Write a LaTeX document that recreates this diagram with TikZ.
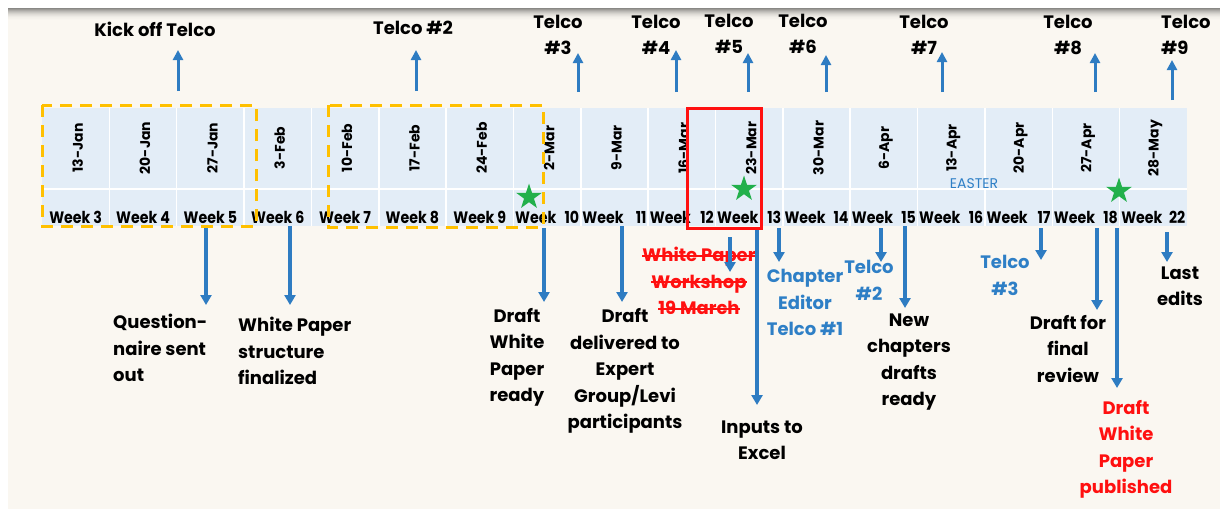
\documentclass[tikz,border=0pt]{standalone}
\usepackage{fontspec}
\setmainfont{Poppins}
\newfontfamily\weekfont{Poppins}[FakeStretch=0.86]
\newcommand\strk[1]{\setbox0=\hbox{#1}\rlap{\raisebox{0.27em}{\rule{\wd0}{1.8pt}}}\box0}
\usetikzlibrary{shapes.geometric,arrows.meta}
\definecolor{cream}{HTML}{FAF7F1}
\definecolor{cellblue}{HTML}{E3EDF7}
\definecolor{ablue}{HTML}{2E7CC2}
\definecolor{tblue}{HTML}{2E7FC6}
\definecolor{myred}{HTML}{FF1010}
\definecolor{myorange}{HTML}{FFC000}
\definecolor{sgreen}{HTML}{22B04B}
\tikzset{
  lab/.style={font=\bfseries\fontsize{18}{26.5}\selectfont, align=center, inner sep=0pt, text=black},
  toplab/.style={font=\bfseries\fontsize{18}{26}\selectfont, align=center, inner sep=0pt, text=black},
  datelab/.style={font=\bfseries\fontsize{14}{14}\selectfont, rotate=90, inner sep=0pt},
  weeklab/.style={font=\weekfont\bfseries\fontsize{16.5}{17}\selectfont, inner sep=0pt},
  arr/.style={draw=ablue, line width=3.5pt, -{Triangle[width=11pt,length=10pt]}},
  tarr/.style={draw=ablue, line width=3pt, -{Triangle[width=10pt,length=10pt]}},
  mystar/.style={star, star points=5, star point ratio=2.6, fill=sgreen, minimum size=27pt, inner sep=0pt},
  orangebox/.style={draw=myorange, line width=3pt, dash pattern=on 12pt off 8pt},
}
\begin{document}
\begin{tikzpicture}[x=1pt,y=-1pt]
\useasboundingbox (0,0) rectangle (1220,509);
\fill[white] (0,0) rectangle (1220,509);
\fill[cream] (8,8) rectangle (1220,509);
\foreach \i/\c in {0/45,1/38,2/31,3/25,4/20,5/15,6/11,7/8,8/5,9/3,10/2,11/1}
  \fill[black!\c!cream] (8,{8+\i}) rectangle (1220,{9+\i});
% table
\def\cw{67.35}
\foreach \i in {0,...,16}
  \fill[cellblue] ({42+\i*\cw},108) rectangle ({42+(\i+1)*\cw},226);
\foreach \i in {1,...,16}
  \draw[white, line width=1.5pt] ({42+\i*\cw},108) -- ({42+\i*\cw},226);
\draw[white, line width=1.5pt] (42,189) -- (1187,189);
% dates
\foreach \d [count=\i from 0] in {13-Jan,20-Jan,27-Jan,3-Feb,10-Feb,17-Feb,24-Feb,2-Mar,9-Mar,16-Mar,23-Mar,30-Mar,6-Apr,13-Apr,20-Apr,27-Apr,28-May}
  \node[datelab] (d\i) at ({42+(\i+0.5)*\cw+2},148) {\d};
% weeks
\foreach \w [count=\i from 0] in {3,4,5,6,7,8,9,10,11,12,13,14,15,16,17,18,22}
  \node[weeklab] (w\i) at ({42+(\i+0.5)*\cw},217) {\ifnum\w>9 \makebox[64pt]{Week\hfill\w}\else Week \w\fi};
\node[font=\fontsize{14}{14}\selectfont, text=tblue, inner sep=0pt] (easter) at (974,184) {EASTER};
% boxes
\draw[orangebox] (42,105) rectangle (256,226);
\draw[orangebox] (328,105) rectangle (543,227);
\draw[myred, line width=3pt] (687,108) rectangle (761,228);
% stars
\node[mystar] (s1) at (529,197) {};
\node[mystar] (s2) at (744,189) {};
\node[mystar] (s3) at (1119,191) {};
% top labels
\node[toplab] (t1) at (155,29) {Kick off Telco};
\node[toplab] (t2) at (413,28) {Telco \#2};
\node[toplab] (t3) at (558,35) {Telco\\\#3};
\node[toplab] (t4) at (656,35) {Telco\\\#4};
\node[toplab] (t5) at (729,34) {Telco\\\#5};
\node[toplab] (t6) at (803,34) {Telco\\\#6};
\node[toplab] (t7) at (924,35) {Telco\\\#7};
\node[toplab] (t8) at (1068,35) {Telco\\\#8};
\node[toplab, align=left, anchor=west] (t9) at (1161,35) {Telco\\\#9};
% top arrows
\foreach \n/\x/\ya/\yb in {1/178/91/50, 2/416/91/50, 3/578/92/53, 4/676/92/50, 5/748/92/53, 6/826/92/55, 7/942/92/52, 8/1095/92/53, 9/1172/100/60}{
  \coordinate (ta\n) at (\x,\ya);
  \coordinate (tb\n) at (\x,\yb);
  \draw[tarr] (ta\n) -- (tb\n);
}
% bottom labels
\node[lab, align=left, anchor=west] (q) at (113,348) {Question-\\naire sent\\out};
\node[lab, align=left, anchor=west] (wp) at (238,351) {White Paper\\structure\\finalized};
\node[lab] (dw) at (517,357.5) {Draft\\White\\Paper\\ready};
\node[lab] (dd) at (625,371) {Draft\\delivered to\\Expert\\Group/Levi\\participants};
\node[lab, text=myred] (ws) at (699,281) {\strk{White Paper}\\\strk{Workshop}\\\strk{19 March}};
\node[lab] (ie) at (762,440) {Inputs to\\Excel};
\node[lab, text=tblue] (ce) at (805,302.5) {Chapter\\Editor\\Telco \#1};
\node[lab, text=tblue] (tc2) at (869,280.5) {Telco\\\#2};
\node[lab] (nc) at (909,362) {New\\chapters\\drafts\\ready};
\node[lab, text=tblue] (tc3) at (1005,275.5) {Telco\\\#3};
\node[lab] (df) at (1068,349) {Draft for\\final\\review};
\node[lab, text=myred] (dp) at (1126,449.5) {Draft\\White\\Paper\\published};
\node[lab] (le) at (1180,286) {Last\\edits};
% bottom arrows
\foreach \n/\x/\ya/\yb in {1/206/228/305, 2/290/226/305, 3/544/228/302, 4/622/226/302, 5/730/237/272, 6/757/230/405, 7/779/228/262, 8/881/228/262, 9/905/226/308, 10/1041/228/260, 11/1097/228/310, 12/1117/228/388, 13/1167/232/262}{
  \coordinate (ba\n) at (\x,\ya);
  \coordinate (bb\n) at (\x,\yb);
  \draw[arr] (ba\n) -- (bb\n);
}
\end{tikzpicture}
\end{document}
